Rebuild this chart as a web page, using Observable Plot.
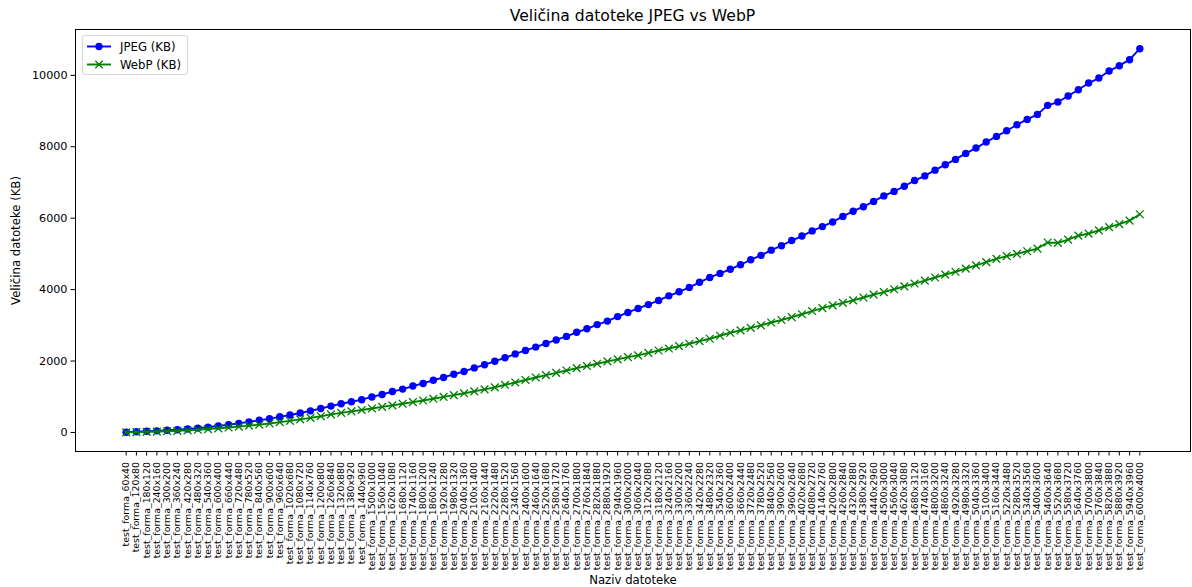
<!DOCTYPE html>
<html>
<head>
<meta charset="utf-8">
<script src="https://cdn.jsdelivr.net/npm/d3@7"></script>
<script src="https://cdn.jsdelivr.net/npm/@observablehq/plot@0.6"></script>
<style>
  body { margin: 0; background: #fff; font-family: "DejaVu Sans", sans-serif; }
  #wrap { position: relative; width: 1192px; height: 587px; overflow: hidden; }
  #title { position: absolute; left: 75px; width: 1115px; top: 0; height: 32px; line-height: 32px; text-align: center; font-size: 15.6px; color: #000; }
  #chart { position: absolute; left: 0; top: 28px; }
  #legend { position: absolute; left: 82px; top: 35px; width: 104px; height: 38px; border: 1px solid #d6d6d6; border-radius: 3px; background: rgba(255,255,255,0.8); font-size: 11.7px; color: #000; }
  .row { position: absolute; left: 0; height: 18px; width: 104px; }
  .row svg { position: absolute; left: 2px; top: 0; }
  .row span { position: absolute; left: 37px; top: 1px; line-height: 16px; white-space: nowrap; }
</style>
</head>
<body>
<div id="wrap">
  <div id="title"></div>
  <div id="chart"></div>
  <div id="legend"></div>
</div>
<script>
const titleText = "Veličina datoteke JPEG vs WebP";
const xLabel = "Naziv datoteke";
const yLabel = "Veličina datoteke (KB)";
const seriesNames = ["JPEG (KB)", "WebP (KB)"];
const seriesColors = ["#0000ff", "#008000"];
const yTicks = [0, 2000, 4000, 6000, 8000, 10000];

const categories = [
  "test_forma_60x40","test_forma_120x80","test_forma_180x120","test_forma_240x160","test_forma_300x200",
  "test_forma_360x240","test_forma_420x280","test_forma_480x320","test_forma_540x360","test_forma_600x400",
  "test_forma_660x440","test_forma_720x480","test_forma_780x520","test_forma_840x560","test_forma_900x600",
  "test_forma_960x640","test_forma_1020x680","test_forma_1080x720","test_forma_1140x760","test_forma_1200x800",
  "test_forma_1260x840","test_forma_1320x880","test_forma_1380x920","test_forma_1440x960","test_forma_1500x1000",
  "test_forma_1560x1040","test_forma_1620x1080","test_forma_1680x1120","test_forma_1740x1160","test_forma_1800x1200",
  "test_forma_1860x1240","test_forma_1920x1280","test_forma_1980x1320","test_forma_2040x1360","test_forma_2100x1400",
  "test_forma_2160x1440","test_forma_2220x1480","test_forma_2280x1520","test_forma_2340x1560","test_forma_2400x1600",
  "test_forma_2460x1640","test_forma_2520x1680","test_forma_2580x1720","test_forma_2640x1760","test_forma_2700x1800",
  "test_forma_2760x1840","test_forma_2820x1880","test_forma_2880x1920","test_forma_2940x1960","test_forma_3000x2000",
  "test_forma_3060x2040","test_forma_3120x2080","test_forma_3180x2120","test_forma_3240x2160","test_forma_3300x2200",
  "test_forma_3360x2240","test_forma_3420x2280","test_forma_3480x2320","test_forma_3540x2360","test_forma_3600x2400",
  "test_forma_3660x2440","test_forma_3720x2480","test_forma_3780x2520","test_forma_3840x2560","test_forma_3900x2600",
  "test_forma_3960x2640","test_forma_4020x2680","test_forma_4080x2720","test_forma_4140x2760","test_forma_4200x2800",
  "test_forma_4260x2840","test_forma_4320x2880","test_forma_4380x2920","test_forma_4440x2960","test_forma_4500x3000",
  "test_forma_4560x3040","test_forma_4620x3080","test_forma_4680x3120","test_forma_4740x3160","test_forma_4800x3200",
  "test_forma_4860x3240","test_forma_4920x3280","test_forma_4980x3320","test_forma_5040x3360","test_forma_5100x3400",
  "test_forma_5160x3440","test_forma_5220x3480","test_forma_5280x3520","test_forma_5340x3560","test_forma_5400x3600",
  "test_forma_5460x3640","test_forma_5520x3680","test_forma_5580x3720","test_forma_5640x3760","test_forma_5700x3800",
  "test_forma_5760x3840","test_forma_5820x3880","test_forma_5880x3920","test_forma_5940x3960","test_forma_6000x4000"
];

const jpegKB = [
  8, 20, 32, 45, 60, 78, 98, 122, 150, 182,
  217, 255, 296, 340, 388, 438, 490, 545, 605, 670,
  738, 803, 859, 918, 995, 1064, 1145, 1214, 1300, 1373,
  1462, 1541, 1630, 1709, 1808, 1895, 1995, 2091, 2200, 2297,
  2390, 2493, 2590, 2690, 2805, 2904, 3020, 3119, 3245, 3361,
  3473, 3580, 3697, 3825, 3940, 4062, 4205, 4340, 4454, 4570,
  4697, 4837, 4960, 5105, 5230, 5375, 5500, 5645, 5765, 5895,
  6050, 6195, 6321, 6470, 6625, 6751, 6895, 7055, 7185, 7345,
  7498, 7647, 7815, 7964, 8133, 8291, 8450, 8618, 8767, 8907,
  9160, 9253, 9421, 9598, 9785, 9925, 10121, 10271, 10439, 10747
];

const webpKB = [
  4, 10, 17, 25, 35, 46, 60, 76, 95, 115,
  138, 162, 190, 220, 252, 288, 325, 365, 408, 455,
  505, 550, 590, 630, 672, 715, 760, 805, 848, 895,
  943, 995, 1045, 1097, 1150, 1205, 1262, 1335, 1400, 1470,
  1540, 1605, 1670, 1735, 1800, 1860, 1925, 1990, 2045, 2110,
  2160, 2230, 2295, 2350, 2418, 2484, 2558, 2624, 2708, 2792,
  2860, 2930, 3000, 3080, 3150, 3230, 3310, 3400, 3480, 3560,
  3630, 3700, 3780, 3860, 3930, 4010, 4090, 4170, 4250, 4340,
  4420, 4500, 4590, 4680, 4770, 4860, 4940, 5000, 5075, 5150,
  5320, 5310, 5400, 5510, 5570, 5660, 5750, 5835, 5930, 6110
];

const rows = categories.map((name, i) => ({name, jpeg: jpegKB[i], webp: webpKB[i]}));

// y-domain with matplotlib-like 5% margins
const yMin = d3.min([...jpegKB, ...webpKB]), yMax = d3.max([...jpegKB, ...webpKB]);
const pad = (yMax - yMin) * 0.05;

document.getElementById("title").textContent = titleText;

const chart = Plot.plot({
  width: 1192,
  height: 559,
  marginTop: 1,
  marginBottom: 136,
  marginLeft: 75,
  marginRight: 2,
  style: {fontFamily: "DejaVu Sans, sans-serif", fontSize: "11.2px", color: "#000", background: "white", overflow: "visible"},
  x: {type: "point", domain: categories, padding: 4.95, round: false},
  y: {domain: [yMin - pad, yMax + pad]},
  marks: [
    Plot.axisY({ticks: yTicks, tickSize: 4.5, tickPadding: 3.5, label: null, fontSize: 11.2, tickFormat: d => String(d)}),
    Plot.axisX({tickSize: 4.5, tickPadding: 6, tickRotate: -90, label: null, fontSize: 9.4}),
    Plot.text([yLabel], {frameAnchor: "left", rotate: -90, dx: -59, fontSize: 11.7, lineAnchor: "middle", textAnchor: "middle"}),
    Plot.text([xLabel], {frameAnchor: "bottom", dy: 129, fontSize: 11.7, lineAnchor: "middle", textAnchor: "middle"}),
    Plot.line(rows, {x: "name", y: "jpeg", stroke: seriesColors[0], strokeWidth: 1.9}),
    Plot.dot(rows, {x: "name", y: "jpeg", fill: seriesColors[0], r: 3.7, stroke: "none"}),
    Plot.line(rows, {x: "name", y: "webp", stroke: seriesColors[1], strokeWidth: 1.9}),
    Plot.dot(rows, {x: "name", y: "webp", symbol: "times", stroke: seriesColors[1], r: 3.6, strokeWidth: 1.3}),
    Plot.frame({stroke: "#000", strokeWidth: 1})
  ]
});
document.getElementById("chart").appendChild(chart);

// legend
const legend = document.getElementById("legend");
seriesNames.forEach((name, i) => {
  const row = document.createElement("div");
  row.className = "row";
  row.style.top = (i === 0 ? 2 : 20) + "px";
  const marker = i === 0
    ? `<circle cx="14" cy="8.5" r="3.7" fill="${seriesColors[i]}"/>`
    : `<path d="M10.3,4.8L17.7,12.2M10.3,12.2L17.7,4.8" stroke="${seriesColors[i]}" stroke-width="1.3"/>`;
  row.innerHTML = `<svg width="30" height="18"><line x1="2" x2="26" y1="8.5" y2="8.5" stroke="${seriesColors[i]}" stroke-width="1.9"/>${marker}</svg><span>${name}</span>`;
  legend.appendChild(row);
});
</script>
</body>
</html>
